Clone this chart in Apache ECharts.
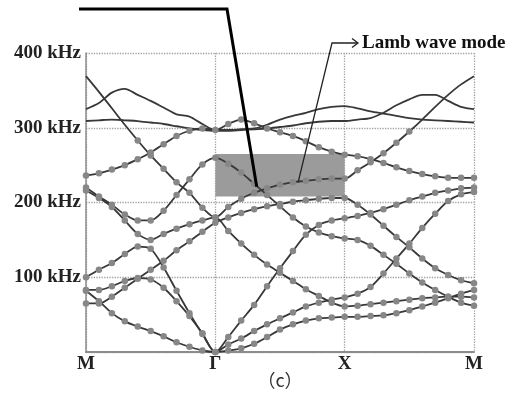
<!DOCTYPE html>
<html>
<head>
<meta charset="utf-8">
<script src="https://cdn.jsdelivr.net/npm/echarts@6/dist/echarts.min.js"></script>
<style>
  html, body { margin: 0; padding: 0; background: #fff; }
  #chart { width: 513px; height: 396px; }
</style>
</head>
<body>
<div id="chart"></div>
<script>
// wave-vector path M -> Γ -> X -> M, sampled every 0.1 of a segment
const kPath = [0, 0.1, 0.2, 0.3, 0.4, 0.5, 0.6, 0.7, 0.8, 0.9,
               1, 1.1, 1.2, 1.3, 1.4, 1.5, 1.6, 1.7, 1.8, 1.9,
               2, 2.1, 2.2, 2.3, 2.4, 2.5, 2.6, 2.7, 2.8, 2.9, 3];
const pointLabels = ['M', 'Γ', 'X', 'M'];

// frequencies in kHz
const band1 = [82, 68, 52, 41, 34, 28, 21, 13, 7, 2, 0, 2, 5, 11, 20, 30, 37, 42, 45, 46, 47, 47, 48, 49, 52, 56, 61, 66, 72, 78, 83];
const band2 = [83, 83, 88, 95, 99, 97, 86, 68, 48, 25, 0, 10, 18, 28, 37, 45, 53, 61, 66, 70, 73, 78, 87, 105, 125, 145, 166, 185, 202, 211, 214];
const band3 = [100, 110, 119, 131, 141, 138, 113, 82, 52, 24, 0, 20, 42, 63, 88, 112, 135, 157, 170, 176, 179, 182, 186, 191, 197, 203, 208, 213, 216, 219, 220];
const band4 = [65, 65, 74, 86, 98, 110, 122, 136, 148, 161, 173, 180, 186, 191, 195, 198, 201, 203, 205, 206, 206, 197, 184, 169, 154, 140, 125, 112, 103, 96, 92];
const band5 = [216, 206, 194, 176, 158, 150, 158, 165, 171, 176, 180, 162, 145, 130, 117, 106, 95, 84, 75, 66, 61, 62, 64, 66, 68, 70, 72, 73, 74, 74, 73];
const band6 = [369, 348, 326, 304, 283, 263, 245, 227, 213, 193, 180, 194, 205, 213, 219, 224, 227, 229, 231, 232, 232, 243, 254, 266, 280, 295, 311, 328, 344, 358, 369];
const band7 = [220, 208, 197, 184, 176, 176, 189, 210, 231, 251, 260, 252, 240, 225, 210, 195, 180, 168, 160, 155, 152, 150, 142, 130, 118, 105, 93, 83, 74, 66, 62];
const band8 = [236, 239, 244, 250, 258, 267, 278, 289, 296, 299, 297, 305, 311, 306, 299, 294, 289, 282, 274, 268, 264, 262, 258, 253, 247, 242, 238, 235, 233, 233, 233];
const band9 = [309, 310, 311, 310, 309, 307, 305, 302, 299, 297, 296, 296, 297, 298, 299, 301, 303, 306, 308, 309, 309, 311, 313, 320, 330, 338, 344, 344, 336, 328, 325];
const band10 = [325, 333, 347, 352, 344, 336, 327, 318, 315, 305, 297, 297, 298, 299, 304, 311, 316, 320, 325, 328, 329, 326, 322, 319, 316, 313, 311, 310, 309, 308, 307];

const bands = [band1, band2, band3, band4, band5, band6, band7, band8, band9, band10];
// measured dots are only shown below this frequency on each band (0 = no dots)
const dotCeiling = [400, 400, 400, 400, 400, 300, 400, 400, 0, 0];

// highlighted region (Γ to X) and pointer targets
const boxK = [1, 2];
const boxF = [208, 265];
const pointerK = [1.32, 1.64];
const pointerF = [221, 227];

const serif = '"Liberation Serif", "DejaVu Serif", serif';

function bandSeries(values, ceiling) {
    return {
        type: 'line',
        data: kPath.map((k, i) => ({
            value: [k, values[i]],
            symbol: values[i] < ceiling ? 'circle' : 'none'
        })),
        smooth: 0.3,
        z: 3,
        showSymbol: ceiling > 0,
        showAllSymbol: true,
        symbolSize: 6.5,
        itemStyle: { color: '#878787', borderWidth: 0 },
        lineStyle: { color: '#383838', width: 1.8 },
        emphasis: { disabled: true }
    };
}

const series = [{
    type: 'line',
    data: [],
    z: 1,
    markArea: {
        silent: true,
        itemStyle: { color: '#9b9b9b' },
        data: [[{ coord: [boxK[0], boxF[0]] }, { coord: [boxK[1], boxF[1]] }]]
    }
}];
bands.forEach((b, i) => series.push(bandSeries(b, dotCeiling[i])));

const option = {
    animation: false,
    grid: { left: 86, right: 39, top: 53, bottom: 44 },
    xAxis: {
        type: 'value', min: 0, max: 3, interval: 1,
        axisLine: { show: true, lineStyle: { color: '#8c8c8c', width: 2 } },
        axisTick: { show: false },
        splitLine: { show: true, lineStyle: { type: 'dotted', color: '#a0a0a0', width: 1.3 } },
        axisLabel: {
            formatter: v => pointLabels[Math.round(v)],
            fontFamily: serif, fontSize: 19, fontWeight: 'bold', color: '#222', margin: 3
        }
    },
    yAxis: {
        type: 'value', min: 0, max: 400, interval: 100,
        axisLine: { show: true, lineStyle: { color: '#8c8c8c', width: 1.5 } },
        axisTick: { show: false },
        splitLine: { show: true, lineStyle: { type: 'dotted', color: '#a0a0a0', width: 1.3 } },
        axisLabel: {
            formatter: v => v ? v + ' kHz' : '',
            fontFamily: serif, fontSize: 19, fontWeight: 'bold', color: '#222', margin: 5
        }
    },
    series: series
};

const chart = echarts.init(document.getElementById('chart'));
chart.setOption(option);

// annotations: thick pointer into the box, arrow to the Lamb wave mode
const thickEnd = chart.convertToPixel({ gridIndex: 0 }, [pointerK[0], pointerF[0]]);
const thinEnd = chart.convertToPixel({ gridIndex: 0 }, [pointerK[1], pointerF[1]]);

chart.setOption({
    graphic: [
        {
            type: 'polyline', z: 10,
            shape: { points: [[79, 9], [227, 9], thickEnd] },
            style: { stroke: '#000', lineWidth: 3, fill: null }
        },
        {
            type: 'polyline', z: 10,
            shape: { points: [thinEnd, [332, 43], [357, 43]] },
            style: { stroke: '#222', lineWidth: 1.3, fill: null }
        },
        {
            type: 'polyline', z: 10,
            shape: { points: [[352, 38.5], [358, 43], [352, 47.5]] },
            style: { stroke: '#222', lineWidth: 1.3, fill: null }
        },
        {
            type: 'text', z: 10, x: 362, y: 43,
            style: {
                text: 'Lamb wave mode', fill: '#111',
                font: 'bold 19px ' + serif,
                verticalAlign: 'middle', align: 'left'
            }
        },
        {
            type: 'text', z: 10, x: 280, y: 380,
            style: {
                text: '（c）', fill: '#333',
                font: '18px "Noto Sans CJK KR", "Noto Sans", sans-serif',
                verticalAlign: 'middle', align: 'center'
            }
        }
    ]
});
</script>
</body>
</html>
